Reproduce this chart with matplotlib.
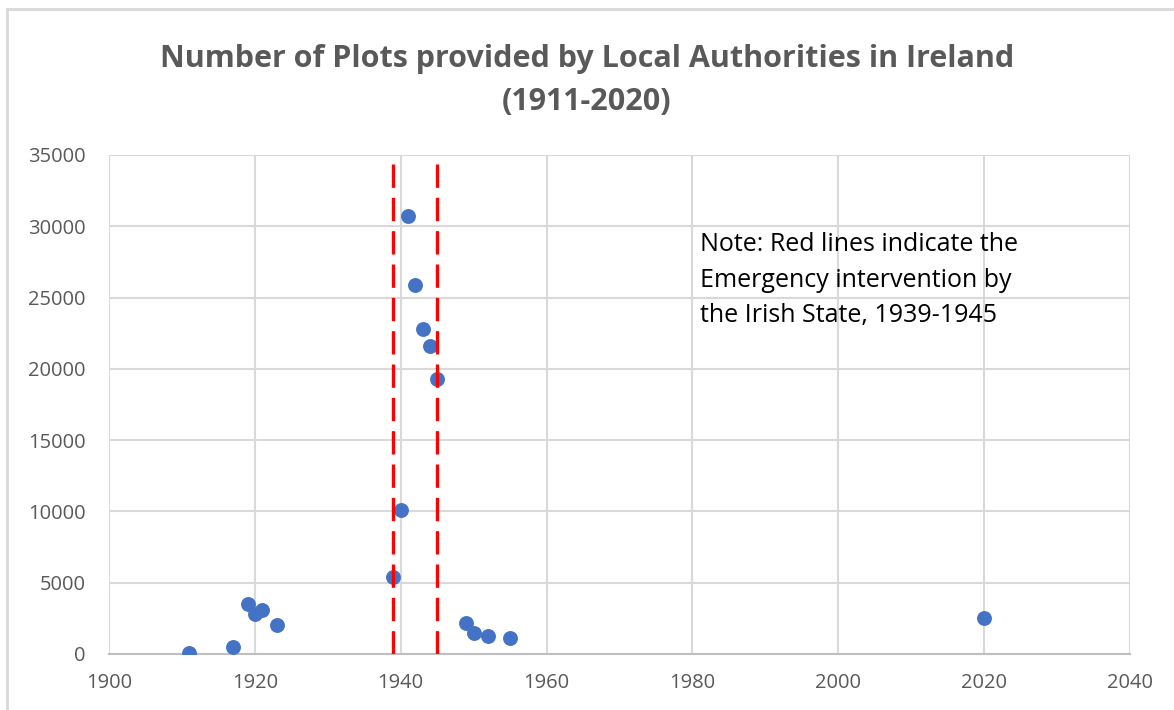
import matplotlib.pyplot as plt
from matplotlib.lines import Line2D

years = [1911, 1917, 1919, 1920, 1921, 1923, 1939, 1940, 1941, 1942, 1943,
         1944, 1945, 1949, 1950, 1952, 1955, 2020]
plots = [50, 500, 3500, 2800, 3050, 2050, 5400, 10100, 30700, 25900, 22800,
         21600, 19300, 2150, 1450, 1250, 1150, 2500]
emergency_years = [1939, 1945]
note = "Note: Red lines indicate the\nEmergency intervention by\nthe Irish State, 1939-1945"

plt.rcParams["font.family"] = ["Open Sans", "DejaVu Sans"]
grey = "#595959"

fig = plt.figure(figsize=(11.74, 7.10), dpi=100)
ax = fig.add_axes([0.0928, 0.0789, 0.8697, 0.7028])

ax.scatter(years, plots, s=115, color="#4472C4", zorder=3, linewidths=0)
for yr in emergency_years:
    ax.axvline(yr, ymin=0, ymax=0.99, color="red", linewidth=2.4,
               dashes=(7, 3), zorder=4)

ax.set_xlim(1900, 2040)
ax.set_ylim(0, 35000)
ax.set_xticks(range(1900, 2041, 20))
ax.set_yticks(range(0, 35001, 5000))
ax.grid(True, color="#d9d9d9", linewidth=1.5, zorder=0)
ax.set_axisbelow(True)
for side in ["top", "right", "left"]:
    ax.spines[side].set_visible(False)
ax.spines["bottom"].set_color("#bfbfbf")
ax.spines["bottom"].set_linewidth(1.5)
ax.tick_params(length=0, labelsize=14.5, labelcolor=grey)
ax.tick_params(axis="y", pad=17)
ax.tick_params(axis="x", pad=14)

ax.text(0.579, 0.845, note, transform=ax.transAxes, fontsize=18,
        color="black", va="top", ha="left", linespacing=1.55)

fig.text(0.5, 0.887, "Number of Plots provided by Local Authorities in Ireland\n(1911-2020)",
         ha="center", va="center", fontsize=22, fontweight="bold", color=grey,
         linespacing=1.55)

# chart frame
fig.add_artist(Line2D([0.006, 0.006], [0, 0.987], color="#d9d9d9", linewidth=2,
                      transform=fig.transFigure))
fig.add_artist(Line2D([0.006, 1], [0.987, 0.987], color="#d9d9d9", linewidth=2,
                      transform=fig.transFigure))

fig.savefig("out.png", dpi=100)
